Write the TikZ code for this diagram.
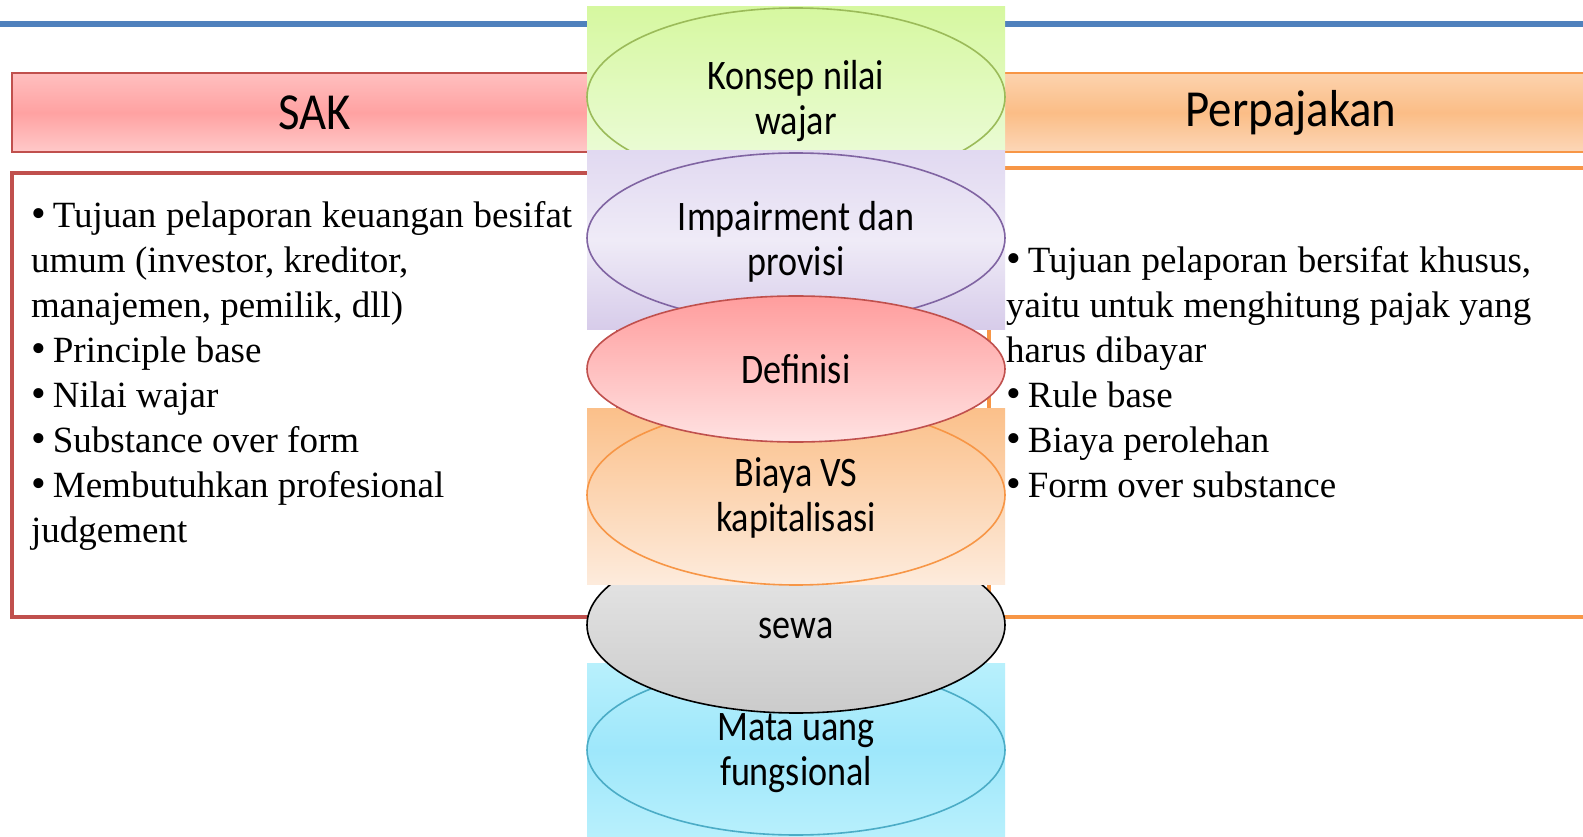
\documentclass[tikz,border=0pt]{standalone}
\usepackage{fontspec}
\setmainfont{Liberation Serif}
\newfontfamily\headfont[FakeStretch=0.9]{Carlito}
\newfontfamily\ovalfont[FakeStretch=0.86]{Carlito}
\usetikzlibrary{shapes.geometric}

\definecolor{rulebl}{HTML}{4F81BD}
\definecolor{sakred}{HTML}{C0504D}
\definecolor{pjorange}{HTML}{F79646}
\definecolor{ovgreen}{HTML}{9BBB59}
\definecolor{ovpurple}{HTML}{8064A2}
\definecolor{ovcyan}{HTML}{4BACC6}
% gradient stops
\definecolor{sakA}{HTML}{FFBFBF}\definecolor{sakB}{HTML}{FFA2A2}\definecolor{sakC}{HTML}{FFC9C9}
\definecolor{pjA}{HTML}{FCD3AE}\definecolor{pjB}{HTML}{FBBD86}\definecolor{pjC}{HTML}{FCD7B8}
\definecolor{grA}{HTML}{D6F8A0}\definecolor{grC}{HTML}{EAFBD4}
\definecolor{puA}{HTML}{E1D9F1}\definecolor{puB}{HTML}{EFEBF7}\definecolor{puC}{HTML}{D7CCEA}
\definecolor{cyA}{HTML}{B8F0FC}\definecolor{cyB}{HTML}{9EE7FB}\definecolor{cyC}{HTML}{B8F0FC}
\definecolor{orA}{HTML}{FBC08A}\definecolor{orC}{HTML}{FDEBDC}
\definecolor{deA}{HTML}{FF9D9D}\definecolor{deC}{HTML}{FFE2E2}
\definecolor{swA}{HTML}{EAEAEA}\definecolor{swC}{HTML}{CBCBCB}

\newcommand{\bul}{{\fontsize{42}{45}\selectfont •}\hspace{7pt}}

\begin{document}
\begin{tikzpicture}[
    x=1pt, y=-1pt,
    headbox/.style={rectangle, draw, line width=2pt, inner sep=0pt, minimum height=79pt, font=\headfont\fontsize{52}{56}\selectfont},
    sidebox/.style={line width=4pt, fill=white},
    oval/.style={ellipse, draw, line width=1.6pt, minimum width=418pt, inner sep=0pt, align=center, font=\ovalfont\fontsize{42}{45}\selectfont},
    twoline/.style={oval, text depth=0pt},
    bodytext/.style={anchor=north west, inner sep=0pt, align=left, font=\fontsize{37}{45}\selectfont}
]
\clip (0,0) rectangle (1583,837);
\fill[white] (0,0) rectangle (1583,837);

% Top rule
\draw[rulebl, line width=6pt] (0,24) -- (1583,24);

% Left: SAK
\node[headbox, draw=sakred, minimum width=606pt, top color=sakA, bottom color=sakC, middle color=sakB] (sakhead) at (315,112.5) {SAK};
\draw[sidebox, draw=sakred] (12,173) rectangle (618,617);

% Right: Perpajakan
\node[headbox, draw=pjorange, minimum width=606pt, top color=pjA, bottom color=pjC, middle color=pjB] (pjhead) at (1291,112.5) {Perpajakan};
\draw[sidebox, draw=pjorange] (989,168) rectangle (1600,617);

% Middle column
\shade[top color=grA, bottom color=grC] (587,7) rectangle (1005,151);
\node[twoline, draw=ovgreen, minimum height=178pt] (nilai) at (796,97) {Konsep nilai\\wajar};

\shade[top color=puA, bottom color=puC, middle color=puB] (587,151) rectangle (1005,329);
\node[twoline, draw=ovpurple, minimum height=170pt] (impair) at (796,238) {Impairment dan\\provisi};

\shade[top color=cyA, bottom color=cyC, middle color=cyB] (587,663) rectangle (1005,837);
\node[twoline, draw=ovcyan, minimum height=170pt] (matauang) at (796,750) {Mata uang\\fungsional};

\node[oval, draw=black, minimum height=176pt, text height=28pt, top color=swA, bottom color=swC] (sewa) at (796,625) {sewa};

\shade[top color=orA, bottom color=orC] (587,408) rectangle (1005,584);
\node[twoline, draw=pjorange, minimum height=180pt] (biaya) at (796,495) {Biaya VS\\kapitalisasi};

\node[oval, draw=sakred, minimum height=146pt, top color=deA, bottom color=deC] (definisi) at (796,369) {Definisi};

% Body texts
\node[bodytext] (saktext) at (31,201.7) {%
  \makebox[541pt][s]{\bul Tujuan pelaporan keuangan besifat}\\
  umum (investor, kreditor,\\
  manajemen, pemilik, dll)\\
  \bul Principle base\\
  \bul Nilai wajar\\
  \bul Substance over form\\
  \bul Membutuhkan profesional\\
  judgement};

\node[bodytext] (pjtext) at (1006,246.7) {%
  \makebox[525pt][s]{\bul Tujuan pelaporan bersifat khusus,}\\
  \makebox[525pt][s]{yaitu untuk menghitung pajak yang}\\
  harus dibayar\\
  \bul Rule base\\
  \bul Biaya perolehan\\
  \bul Form over substance};

\end{tikzpicture}
\end{document}
